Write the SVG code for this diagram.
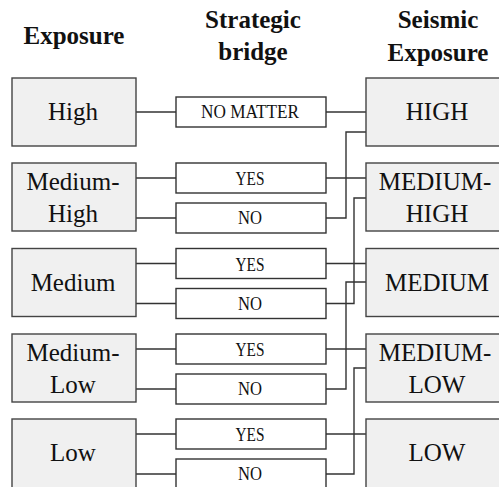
<svg xmlns="http://www.w3.org/2000/svg" width="499" height="487" viewBox="0 0 499 487">
  <defs>
    <style>
      .big { fill: #f0f0f0; stroke: #444; stroke-width: 1.4; }
      .small { fill: #fff; stroke: #333; stroke-width: 1.4; }
      #connectors path { fill: none; stroke: #333; stroke-width: 1.4; }
    </style>
  </defs>
  <rect width="499" height="487" fill="#fff"/>

  <!-- column headers -->
  <g id="headers" fill="#111" text-anchor="middle" font-weight="bold" font-size="25">
    <text style="font-family:'Liberation Serif',serif" x="74" y="44">Exposure</text>
    <text style="font-family:'Liberation Serif',serif" x="253" y="28">Strategic</text>
    <text style="font-family:'Liberation Serif',serif" x="253" y="60">bridge</text>
    <text style="font-family:'Liberation Serif',serif" x="438" y="28">Seismic</text>
    <text style="font-family:'Liberation Serif',serif" x="438" y="61">Exposure</text>
  </g>

  <!-- connectors -->
  <g id="connectors">
    <!-- exposure to strategic options -->
    <path d="M136 112H176"/>
    <path d="M136 178H176M136 218H176"/>
    <path d="M136 263.5H176M136 303.5H176"/>
    <path d="M136 349H176M136 389H176"/>
    <path d="M136 434H176M136 474H176"/>
    <!-- straight links to the seismic class of the same row -->
    <path d="M326 112H366"/>
    <path d="M326 178H366"/>
    <path d="M326 263.5H366"/>
    <path d="M326 349H366"/>
    <path d="M326 434H366"/>
    <!-- non-strategic bridges step up one class -->
    <path d="M326 218H346V132H366"/>
    <path d="M326 303.5H354V198H366"/>
    <path d="M326 389H346V282H366"/>
    <path d="M326 474H354V368H366"/>
  </g>

  <g fill="#111" text-anchor="middle" font-size="25">
    <!-- exposure column -->
    <g id="exp-high">
      <rect class="big" x="12" y="78" width="124" height="68"/>
      <text style="font-family:'Liberation Serif',serif" x="73" y="120">High</text>
    </g>
    <g id="exp-medium-high">
      <rect class="big" x="12" y="163" width="124" height="68"/>
      <text style="font-family:'Liberation Serif',serif" x="73" y="190">Medium-</text>
      <text style="font-family:'Liberation Serif',serif" x="73" y="222">High</text>
    </g>
    <g id="exp-medium">
      <rect class="big" x="12" y="248.5" width="124" height="68"/>
      <text style="font-family:'Liberation Serif',serif" x="73" y="291">Medium</text>
    </g>
    <g id="exp-medium-low">
      <rect class="big" x="12" y="334" width="124" height="68"/>
      <text style="font-family:'Liberation Serif',serif" x="73" y="361">Medium-</text>
      <text style="font-family:'Liberation Serif',serif" x="73" y="393">Low</text>
    </g>
    <g id="exp-low">
      <rect class="big" x="12" y="419" width="124" height="80"/>
      <text style="font-family:'Liberation Serif',serif" x="73" y="461">Low</text>
    </g>

    <!-- seismic exposure column -->
    <g id="se-high">
      <rect class="big" x="366" y="78" width="145" height="68"/>
      <text style="font-family:'Liberation Serif',serif" x="437" y="120">HIGH</text>
    </g>
    <g id="se-medium-high">
      <rect class="big" x="366" y="163" width="145" height="68"/>
      <text style="font-family:'Liberation Serif',serif" x="435" y="190">MEDIUM-</text>
      <text style="font-family:'Liberation Serif',serif" x="437" y="222">HIGH</text>
    </g>
    <g id="se-medium">
      <rect class="big" x="366" y="248.5" width="145" height="68"/>
      <text style="font-family:'Liberation Serif',serif" x="437" y="291">MEDIUM</text>
    </g>
    <g id="se-medium-low">
      <rect class="big" x="366" y="334" width="145" height="68"/>
      <text style="font-family:'Liberation Serif',serif" x="435" y="361">MEDIUM-</text>
      <text style="font-family:'Liberation Serif',serif" x="437" y="393">LOW</text>
    </g>
    <g id="se-low">
      <rect class="big" x="366" y="419" width="145" height="80"/>
      <text style="font-family:'Liberation Serif',serif" x="437" y="461">LOW</text>
    </g>
  </g>

  <!-- strategic bridge column -->
  <g fill="#111" text-anchor="middle" font-size="18">
    <g id="sb-nomatter">
      <rect class="small" x="176" y="97" width="150" height="30"/>
      <text style="font-family:'Liberation Serif',serif" x="250" y="118" textLength="98" lengthAdjust="spacingAndGlyphs">NO MATTER</text>
    </g>
    <g id="sb-mh-yes">
      <rect class="small" x="176" y="163" width="150" height="30"/>
      <text style="font-family:'Liberation Serif',serif" x="250" y="185" textLength="29" lengthAdjust="spacingAndGlyphs">YES</text>
    </g>
    <g id="sb-mh-no">
      <rect class="small" x="176" y="203" width="150" height="30"/>
      <text style="font-family:'Liberation Serif',serif" x="250" y="224" textLength="24" lengthAdjust="spacingAndGlyphs">NO</text>
    </g>
    <g id="sb-m-yes">
      <rect class="small" x="176" y="248.5" width="150" height="30"/>
      <text style="font-family:'Liberation Serif',serif" x="250" y="270.5" textLength="29" lengthAdjust="spacingAndGlyphs">YES</text>
    </g>
    <g id="sb-m-no">
      <rect class="small" x="176" y="288.5" width="150" height="30"/>
      <text style="font-family:'Liberation Serif',serif" x="250" y="309.5" textLength="24" lengthAdjust="spacingAndGlyphs">NO</text>
    </g>
    <g id="sb-ml-yes">
      <rect class="small" x="176" y="334" width="150" height="30"/>
      <text style="font-family:'Liberation Serif',serif" x="250" y="356" textLength="29" lengthAdjust="spacingAndGlyphs">YES</text>
    </g>
    <g id="sb-ml-no">
      <rect class="small" x="176" y="374" width="150" height="30"/>
      <text style="font-family:'Liberation Serif',serif" x="250" y="395" textLength="24" lengthAdjust="spacingAndGlyphs">NO</text>
    </g>
    <g id="sb-l-yes">
      <rect class="small" x="176" y="419" width="150" height="30"/>
      <text style="font-family:'Liberation Serif',serif" x="250" y="441" textLength="29" lengthAdjust="spacingAndGlyphs">YES</text>
    </g>
    <g id="sb-l-no">
      <rect class="small" x="176" y="459" width="150" height="40"/>
      <text style="font-family:'Liberation Serif',serif" x="250" y="480" textLength="24" lengthAdjust="spacingAndGlyphs">NO</text>
    </g>
  </g>
</svg>
